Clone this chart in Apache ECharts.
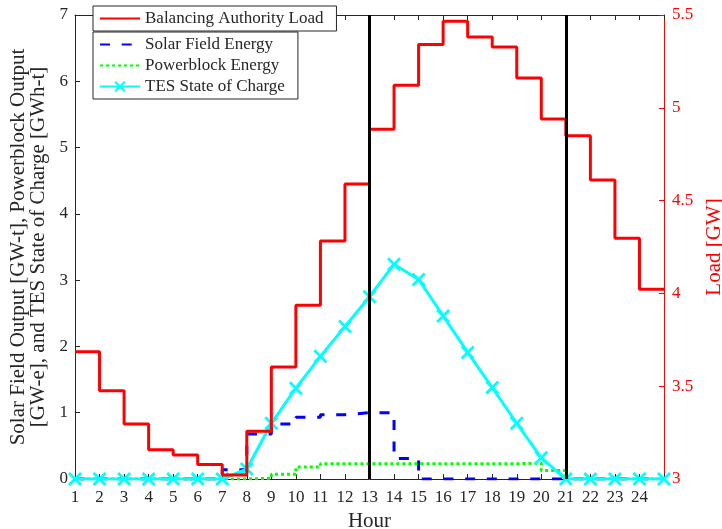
<!DOCTYPE html>
<html>
<head>
<meta charset="utf-8">
<script src="https://cdn.jsdelivr.net/npm/echarts@6/dist/echarts.min.js"></script>
<style>
  html, body { margin: 0; padding: 0; background: #fff; }
  #chart { width: 722px; height: 529px; }
</style>
</head>
<body>
<div id="chart"></div>
<script>
// Hour marks on the x axis (stairs hold each value until the next hour)
const hours = [1, 2, 3, 4, 5, 6, 7, 8, 9, 10, 11, 12, 13, 14, 15, 16, 17, 18, 19, 20, 21, 22, 23, 24, 25];

// Balancing authority load [GW], one value per hour 1..24
const loadGW = [3.686, 3.476, 3.296, 3.157, 3.129, 3.078, 3.021, 3.257, 3.603, 3.936, 4.282, 4.589,
                4.884, 5.122, 5.341, 5.466, 5.382, 5.328, 5.161, 4.939, 4.849, 4.611, 4.297, 4.022];

// Solar field energy [GW-t], hours 1..24
const solarField = [0, 0, 0, 0, 0, 0, 0.14, 0.68, 0.83, 0.93, 0.97, 1.0,
                    1.0, 0.31, 0, 0, 0, 0, 0, 0, 0, 0, 0, 0];

// Powerblock energy [GW-e], hours 1..24
const powerblock = [0, 0, 0, 0, 0, 0, 0, 0.01, 0.07, 0.18, 0.23, 0.23,
                    0.23, 0.23, 0.23, 0.23, 0.23, 0.23, 0.24, 0.13, 0, 0, 0, 0];

// TES state of charge [GWh-t], at hours 1..25
const tesCharge = [0, 0, 0, 0, 0, 0, 0, 0.15, 0.84, 1.37, 1.85, 2.30, 2.75,
                   3.24, 3.01, 2.46, 1.91, 1.38, 0.84, 0.32, 0, 0, 0, 0, 0];

// Dispatch window boundaries
const windowHours = [13, 21];

// Tick values
const leftTicks = [0, 1, 2, 3, 4, 5, 6, 7];
const rightTicks = [3, 3.5, 4, 4.5, 5, 5.5];

// Stair series: pair each hourly value with its hour and close it at the next hour
function stairs(values) {
  const pts = values.map((v, i) => [hours[i], v]);
  pts.push([hours[values.length], values[values.length - 1]]);
  return pts;
}

const FONT = 'Liberation Serif';
const INK = '#262626';
const xMark = 'path://M0,1.4L1.4,0L5,3.6L8.6,0L10,1.4L6.4,5L10,8.6L8.6,10L5,6.4L1.4,10L0,8.6L3.6,5Z';
// plain line entries in the legend carry no marker
const noMarker = { opacity: 0 };

const legendText = { fontFamily: FONT, fontSize: 17, color: INK };

const chart = echarts.init(document.getElementById('chart'));
chart.setOption({
  animation: false,
  backgroundColor: '#fff',
  grid: { left: 75, right: 58, top: 15, bottom: 50, containLabel: false, outerBoundsMode: 'none' },
  legend: [
    {
      data: [{ name: 'Balancing Authority Load', itemStyle: noMarker }],
      left: 93, top: 6, orient: 'vertical',
      backgroundColor: '#fff', borderColor: INK, borderWidth: 1,
      padding: [4, 13, 4, 6], itemWidth: 40, itemHeight: 14, itemGap: 4,
      textStyle: legendText,
      z: 20
    },
    {
      data: [
        { name: 'Solar Field Energy', itemStyle: noMarker },
        { name: 'Powerblock Energy', itemStyle: noMarker },
        { name: 'TES State of Charge' }
      ],
      left: 93, top: 32, orient: 'vertical',
      backgroundColor: '#fff', borderColor: INK, borderWidth: 1,
      padding: [4, 13, 4, 6], itemWidth: 40, itemHeight: 14, itemGap: 4,
      textStyle: legendText,
      z: 20
    }
  ],
  xAxis: [
    {
      type: 'value', min: 1, max: 25, interval: 1,
      name: 'Hour', nameLocation: 'middle', nameGap: 27,
      nameTextStyle: { fontFamily: FONT, fontSize: 21, color: INK },
      axisLine: { lineStyle: { color: INK, width: 1 } },
      axisTick: { inside: true, length: 5, lineStyle: { color: INK } },
      axisLabel: {
        fontFamily: FONT, fontSize: 17, color: INK, margin: 10,
        formatter: v => (v === 25 ? '' : String(v))
      },
      splitLine: { show: false }
    },
    {
      type: 'value', position: 'top', min: 1, max: 25, interval: 1,
      axisLine: { show: true, lineStyle: { color: INK, width: 1 } },
      axisTick: { inside: true, length: 5, lineStyle: { color: INK } },
      axisLabel: { show: false },
      splitLine: { show: false }
    }
  ],
  yAxis: [
    {
      type: 'value', min: leftTicks[0], max: leftTicks[leftTicks.length - 1], interval: 1,
      position: 'left',
      name: 'Solar Field Output [GW-t], Powerblock Output\n[GW-e], and TES State of Charge [GWh-t]',
      nameLocation: 'middle', nameRotate: 90, nameGap: 18,
      nameTextStyle: { fontFamily: FONT, fontSize: 21, color: INK, lineHeight: 20, align: 'center' },
      axisLine: { show: true, lineStyle: { color: INK, width: 1 } },
      axisTick: { show: true, inside: true, length: 5, lineStyle: { color: INK } },
      axisLabel: { fontFamily: FONT, fontSize: 17, color: INK, margin: 7 },
      splitLine: { show: false }
    },
    {
      type: 'value', min: rightTicks[0], max: rightTicks[rightTicks.length - 1], interval: 0.5,
      position: 'right',
      name: 'Load [GW]', nameLocation: 'middle', nameRotate: 90, nameGap: 37,
      nameTextStyle: { fontFamily: FONT, fontSize: 21, color: '#ff0000' },
      axisLine: { show: true, lineStyle: { color: '#ff0000', width: 1 } },
      axisTick: { show: true, inside: true, length: 5, lineStyle: { color: '#ff0000' } },
      axisLabel: { fontFamily: FONT, fontSize: 17, color: '#ff0000', margin: 8 },
      splitLine: { show: false }
    }
  ],
  series: [
    {
      name: 'Solar Field Energy', type: 'line', step: 'end', yAxisIndex: 0,
      data: stairs(solarField), showSymbol: false, symbol: 'none',
      color: '#0000ff',
      lineStyle: { color: '#0000ff', width: 3, type: [10, 11.7] },
      z: 2
    },
    {
      name: 'Powerblock Energy', type: 'line', step: 'end', yAxisIndex: 0,
      data: stairs(powerblock), showSymbol: false, symbol: 'none',
      color: '#00ff00',
      lineStyle: { color: '#00ff00', width: 3, type: [3, 3] },
      z: 3
    },
    {
      name: 'TES State of Charge', type: 'line', yAxisIndex: 0,
      data: tesCharge.map((v, i) => [hours[i], v]),
      symbol: xMark, symbolSize: 14, showSymbol: true,
      color: '#00ffff',
      itemStyle: { color: '#00ffff' },
      lineStyle: { color: '#00ffff', width: 3 },
      z: 4
    },
    {
      name: 'Balancing Authority Load', type: 'line', step: 'end', yAxisIndex: 1,
      data: stairs(loadGW), showSymbol: false, symbol: 'none',
      color: '#ff0000',
      lineStyle: { color: '#ff0000', width: 3 },
      z: 5,
      markLine: {
        silent: true, symbol: 'none', z: 6,
        label: { show: false },
        lineStyle: { color: '#000', width: 3, type: 'solid' },
        data: windowHours.map(h => ({ xAxis: h }))
      }
    }
  ]
});
</script>
</body>
</html>
